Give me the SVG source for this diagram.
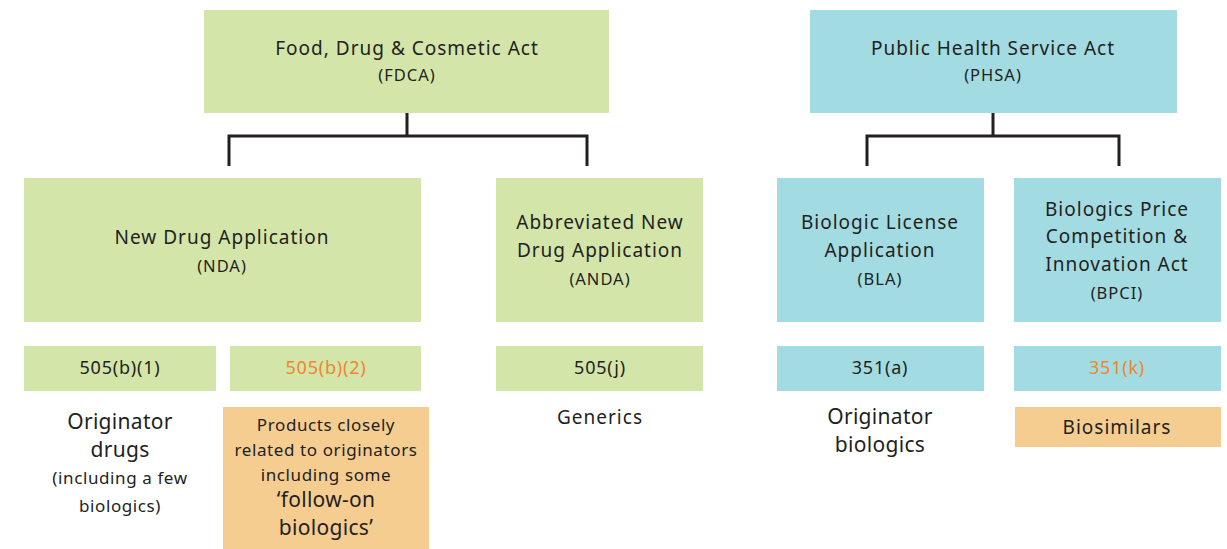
<svg xmlns="http://www.w3.org/2000/svg" width="1227" height="549" viewBox="0 0 1227 549">
<style>
text{font-family:"Noto Sans","Liberation Sans",sans-serif;fill:#231f20;text-anchor:middle}
.g{fill:#d4e5a9}.b{fill:#a2dbe2}.o{fill:#f5cd91}
.t{font-size:19px;letter-spacing:1px}.s{font-size:16.5px;letter-spacing:1px}.m{font-size:18px;letter-spacing:0.8px}.l{font-size:21px;letter-spacing:0.3px}.p{font-size:17px;letter-spacing:0.6px}
.or{fill:#f0862e}
.c{fill:none;stroke:#231f20;stroke-width:3}
</style>
<g id="connectors">
<path class="c" d="M407 113V136M229 166V136H587V166"/>
<path class="c" d="M993 113V136M867 166V136H1119V166"/>
</g>
<g id="fdca"><rect class="g" x="204" y="10" width="405" height="103"/>
<text class="t" x="407" y="55">Food, Drug &amp; Cosmetic Act</text><text class="s" x="407" y="81">(FDCA)</text></g>
<g id="phsa"><rect class="b" x="810" y="10" width="367" height="103"/>
<text class="t" x="993" y="55">Public Health Service Act</text><text class="s" x="993" y="81">(PHSA)</text></g>
<g id="nda"><rect class="g" x="24" y="178" width="397" height="144"/>
<text class="t" x="222" y="244">New Drug Application</text><text class="s" x="222" y="272">(NDA)</text></g>
<g id="anda"><rect class="g" x="496" y="178" width="207" height="144"/>
<text class="t" x="600" y="229">Abbreviated New</text><text class="t" x="600" y="257">Drug Application</text><text class="s" x="600" y="285">(ANDA)</text></g>
<g id="bla"><rect class="b" x="777" y="178" width="207" height="144"/>
<text class="t" x="880" y="229">Biologic License</text><text class="t" x="880" y="257">Application</text><text class="s" x="880" y="285">(BLA)</text></g>
<g id="bpci"><rect class="b" x="1014" y="178" width="207" height="144"/>
<text class="t" x="1117" y="216">Biologics Price</text><text class="t" x="1117" y="243">Competition &amp;</text><text class="t" x="1117" y="271">Innovation Act</text><text class="s" x="1117" y="299">(BPCI)</text></g>
<g id="s505b1"><rect class="g" x="24" y="346" width="192" height="45"/><text class="m" x="120" y="374">505(b)(1)</text></g>
<g id="s505b2"><rect class="g" x="230" y="346" width="191" height="45"/><text class="m or" x="326" y="374">505(b)(2)</text></g>
<g id="s505j"><rect class="g" x="496" y="346" width="207" height="45"/><text class="m" x="600" y="374">505(j)</text></g>
<g id="s351a"><rect class="b" x="777" y="346" width="207" height="45"/><text class="m" x="880" y="374">351(a)</text></g>
<g id="s351k"><rect class="b" x="1014" y="346" width="207" height="45"/><text class="m or" x="1117" y="374">351(k)</text></g>
<g id="origdrugs"><text class="l" x="120" y="429">Originator</text><text class="l" x="120" y="457">drugs</text><text class="p" x="120" y="484">(including a few</text><text class="p" x="120" y="512">biologics)</text></g>
<g id="followon"><rect class="o" x="223" y="407" width="206" height="142"/>
<text class="p" x="326" y="431">Products closely</text><text class="p" x="326" y="456">related to originators</text><text class="p" x="326" y="481">including some</text><text class="l" x="326" y="507">‘follow-on</text><text class="l" x="326" y="535">biologics’</text></g>
<g id="generics"><text class="t" x="600" y="424">Generics</text></g>
<g id="origbio"><text class="l" x="880" y="424">Originator</text><text class="l" x="880" y="452">biologics</text></g>
<g id="biosim"><rect class="o" x="1015" y="407" width="206" height="40"/><text class="t" x="1117" y="434">Biosimilars</text></g>
</svg>
